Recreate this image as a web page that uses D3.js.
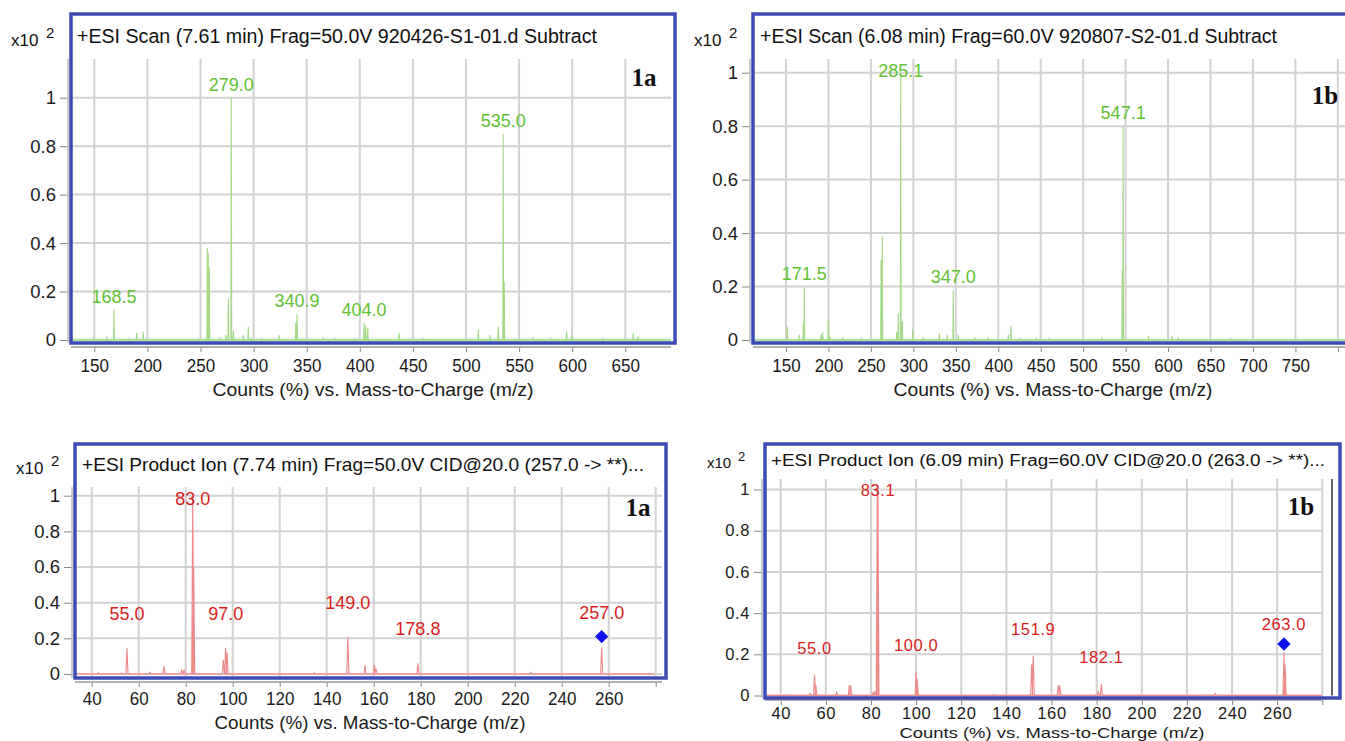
<!DOCTYPE html>
<html>
<head>
<meta charset="utf-8">
<script src="https://cdn.jsdelivr.net/npm/d3@7"></script>
<style>
  body { margin: 0; background: #fff; }
  svg { display: block; }
  text { font-family: "Liberation Sans", Arial, Helvetica, sans-serif; }
</style>
</head>
<body>
<svg id="chart" width="1345" height="741"></svg>
<script>
// ---- data ----
const yTicks = [0, 0.2, 0.4, 0.6, 0.8, 1];

const xTicksScanA = [150, 200, 250, 300, 350, 400, 450, 500, 550, 600, 650];
const xTicksScanB = [150, 200, 250, 300, 350, 400, 450, 500, 550, 600, 650, 700, 750, 800];
const xLabelsScanB = ["150", "200", "250", "300", "350", "400", "450", "500", "550", "600", "650", "700", "750", ""];
const xTicksIon = [40, 60, 80, 100, 120, 140, 160, 180, 200, 220, 240, 260, 280];
const xLabelsIon = ["40", "60", "80", "100", "120", "140", "160", "180", "200", "220", "240", "260", ""];

const titles = [
  "+ESI Scan (7.61 min) Frag=50.0V 920426-S1-01.d  Subtract",
  "+ESI Scan (6.08 min) Frag=60.0V 920807-S2-01.d  Subtract",
  "+ESI Product Ion (7.74 min) Frag=50.0V CID@20.0 (257.0 -> **)...",
  "+ESI Product Ion (6.09 min) Frag=60.0V CID@20.0 (263.0 -> **)..."
];
const tags = ["1a", "1b", "1a", "1b"];
const axisTitle = "Counts (%) vs. Mass-to-Charge (m/z)";

// [m/z, relative counts x10^2]
const scan1aPeaks = [
  [149, 0.01], [161.7, 0.015], [168.5, 0.124], [182, 0.005], [190, 0.03], [196, 0.035],
  [256.4, 0.38], [257.3, 0.36], [258.3, 0.3], [268, 0.01], [274, 0.02], [276.2, 0.17],
  [279.0, 1.0], [281, 0.04], [290.3, 0.02], [295, 0.055], [298, 0.01], [307.6, 0.005],
  [324.2, 0.02], [339.6, 0.07], [340.9, 0.107], [365.6, 0.01], [376.6, 0.005], [395.5, 0.005],
  [404.0, 0.07], [405.5, 0.06], [407.5, 0.05], [437, 0.03], [460, 0.005], [511.6, 0.045],
  [522.6, 0.02], [530.4, 0.055], [535.0, 0.85], [536, 0.24], [563, 0.01], [579.7, 0.01],
  [594.8, 0.035], [599.5, 0.02], [628.7, 0.005], [657.5, 0.03], [662, 0.015]
];
const scan1aLabels = [168.5, 279.0, 340.9, 404.0, 535.0];

const scan1bPeaks = [
  [151.6, 0.05], [165.7, 0.02], [170.4, 0.06], [171.5, 0.197], [191.2, 0.02], [193.2, 0.03],
  [200, 0.08], [201.8, 0.01], [216.8, 0.01], [239, 0.005], [262, 0.3], [263.4, 0.389],
  [280.4, 0.03], [282.3, 0.1], [285.1, 1.0], [287, 0.07], [299.2, 0.04], [311.7, 0.01],
  [330.6, 0.025], [340, 0.02], [347.0, 0.187], [352.9, 0.02], [372.6, 0.01], [388.3, 0.01],
  [411.9, 0.02], [415, 0.053], [425.6, 0.005], [445, 0.005], [459.8, 0.005], [522, 0.01],
  [546, 0.26], [547.1, 0.8], [577, 0.015], [604.6, 0.015], [612, 0.01], [674, 0.005]
];
const scan1bLabels = [171.5, 285.1, 347.0, 547.1];

const ion1aPeaks = [
  [42.8, 0.008], [52.8, 0.005], [55.0, 0.144], [64.8, 0.01], [70.8, 0.045], [78.3, 0.02],
  [79.3, 0.025], [83.0, 1.0], [83.4, 0.6], [96, 0.08], [97.0, 0.145], [97.6, 0.12],
  [134.6, 0.008], [149.0, 0.209], [156.3, 0.05], [160.3, 0.05], [161, 0.03], [178.8, 0.06],
  [226.9, 0.01], [257.0, 0.15]
];
const ion1aLabels = [55.0, 83.0, 97.0, 149.0, 178.8, 257.0];
const ion1aPrecursor = [257.0, 0.21];

const ion1bPeaks = [
  [42.6, 0.005], [53, 0.01], [55.0, 0.1], [55.6, 0.05], [64.8, 0.015], [70.4, 0.05],
  [71, 0.05], [81, 0.015], [81.8, 0.02], [82.8, 1.0], [83.1, 1.0], [100.0, 0.115],
  [100.5, 0.08], [134.6, 0.005], [151.2, 0.15], [151.9, 0.193], [163, 0.05], [163.7, 0.05],
  [180.7, 0.02], [182.1, 0.055], [226, 0.003], [232.6, 0.01], [263.0, 0.21], [263.5, 0.15]
];
const ion1bLabels = [55.0, 83.1, 100.0, 151.9, 182.1, 263.0];
const ion1bPrecursor = [263.0, 0.25];

// ---- layout / style per panel ----
const green = { line: "#a3d989", base: "#c6e7b6", label: "#5fc234" };
const red = { line: "#ec8a8a", base: "#f3bcbc", label: "#d91c1c" };

const panels = [
  { peaks: scan1aPeaks, labels: scan1aLabels, ticks: xTicksScanA, tickLabels: null, col: green,
    box: [71, 14, 675, 343], xDomain: [150, 650], xRange: [94.3, 625.3], yRange: [340, 97.7],
    gridTop: 59, plotRight: 671, lineEnd: 671, axisY: 347, yAxisX: 68, xPad: 7,
    titlePos: [77, 43, 520], expPos: [11, 46], tagPos: [644, 86], axisTitlePos: [373, 396, 321],
    fs: 18.5, axisFs: 18.5, sx: 0.92, labelFs: 18, titleFs: 19.5, expFs: 17, ls: 0, labelGap: 7, hw: 0.4, baseW: 3 },
  { peaks: scan1bPeaks, labels: scan1bLabels, ticks: xTicksScanB, tickLabels: xLabelsScanB, col: green,
    box: [753, 14, 1360, 343], xDomain: [150, 750], xRange: [786, 1295.4], yRange: [340, 72.7],
    gridTop: 59, plotRight: 1345, lineEnd: 1345, axisY: 347, yAxisX: 750, xPad: 7,
    titlePos: [760, 43, 517], expPos: [694, 46], tagPos: [1325, 104], axisTitlePos: [1053, 396, 319],
    fs: 18.5, axisFs: 18.5, sx: 0.92, labelFs: 18, titleFs: 19.5, expFs: 17, ls: 0, labelGap: 7, hw: 0.45, baseW: 2.5 },
  { peaks: ion1aPeaks, labels: ion1aLabels, precursor: ion1aPrecursor, ticks: xTicksIon, tickLabels: xLabelsIon, col: red,
    box: [75, 444, 666, 678], xDomain: [40, 260], xRange: [91.7, 608.7], yRange: [674, 495.7],
    gridTop: 487, plotRight: 662, lineEnd: 655, axisY: 682, yAxisX: 72, xPad: 5,
    titlePos: [82, 471, 562], expPos: [16, 474], tagPos: [638, 516], axisTitlePos: [370, 729, 311],
    fs: 18.5, axisFs: 18.5, sx: 0.92, labelFs: 18, titleFs: 18.5, expFs: 17, ls: 0, labelGap: 28, precGap: 18, hw: 0.45, baseW: 2 },
  { peaks: ion1bPeaks, labels: ion1bLabels, precursor: ion1bPrecursor, ticks: xTicksIon, tickLabels: xLabelsIon, col: red,
    box: [765, 444, 1340, 698], xDomain: [40, 260], xRange: [780.7, 1277.2], yRange: [695.5, 489.5],
    gridTop: 479, plotRight: 1322, lineEnd: 1322, axisY: 700, yAxisX: 762, xPad: 2,
    titlePos: [771, 466, 554], expPos: [707, 468], tagPos: [1301, 515], axisTitlePos: [1052, 737.5, 305],
    fs: 16.5, axisFs: 15, sx: 1, labelFs: 16.5, titleFs: 16, expFs: 15, ls: 0.6, labelGap: 21, precGap: 14, hw: 0.45, baseW: 2,
    rightRule: 1332 }
];

const svg = d3.select("#chart");
const boxColor = "#3c4ab6";
const gridColor = "#d2d2d2";

panels.forEach((p, i) => {
  const g = svg.append("g");
  const [bx0, by0, bx1, by1] = p.box;

  const x = d3.scaleLinear().domain(p.xDomain).range(p.xRange);
  const y = d3.scaleLinear().domain([0, 1]).range(p.yRange);

  // grid
  g.append("g").selectAll("line").data(p.ticks).join("line")
    .attr("x1", d => x(d)).attr("x2", d => x(d))
    .attr("y1", p.gridTop).attr("y2", by1)
    .attr("stroke", gridColor).attr("stroke-width", 2);
  g.append("g").selectAll("line").data(yTicks).join("line")
    .attr("x1", bx0).attr("x2", p.plotRight)
    .attr("y1", d => y(d)).attr("y2", d => y(d))
    .attr("stroke", gridColor).attr("stroke-width", 2);

  if (p.rightRule) {
    g.append("line").attr("x1", p.rightRule).attr("x2", p.rightRule)
      .attr("y1", p.gridTop).attr("y2", y(0))
      .attr("stroke", "#666").attr("stroke-width", 2);
  }

  // y axis
  const yAxis = d3.axisLeft(y).tickValues(yTicks)
    .tickFormat(d => (d === 0 || d === 1) ? String(d) : d3.format(".1f")(d))
    .tickSize(8).tickPadding(4);
  const ya = g.append("g").attr("transform", `translate(${p.yAxisX},0)`).call(yAxis);
  ya.select(".domain").remove();
  ya.selectAll("line").attr("stroke", "#888");
  ya.selectAll("text").attr("font-size", p.fs).attr("fill", "#1a1a1a")
    .attr("letter-spacing", p.ls);
  g.append("line").attr("x1", p.yAxisX).attr("x2", p.yAxisX)
    .attr("y1", p.gridTop).attr("y2", by1).attr("stroke", "#bbb").attr("stroke-width", 1.5);

  // x axis below the frame
  const xAxis = d3.axisBottom(x).tickValues(p.ticks)
    .tickFormat((d, k) => p.tickLabels ? p.tickLabels[k] : String(d))
    .tickSize(5).tickPadding(p.xPad);
  const xa = g.append("g").attr("transform", `translate(0,${p.axisY})`).call(xAxis);
  xa.select(".domain").remove();
  xa.selectAll("line").attr("stroke", "#888");
  xa.selectAll("text").attr("font-size", p.fs).attr("fill", "#1a1a1a")
    .attr("transform", `scale(${p.sx},1)`)
    .attr("letter-spacing", p.ls);
  g.append("line").attr("x1", bx0).attr("x2", Math.min(p.plotRight, 1345))
    .attr("y1", p.axisY).attr("y2", p.axisY).attr("stroke", "#999").attr("stroke-width", 1.5);

  // spectrum trace
  const x0 = x.invert(bx0 + 2), x1 = x.invert(p.lineEnd);
  g.append("line").attr("x1", x(x0)).attr("x2", x(x1))
    .attr("y1", y(0)).attr("y2", y(0))
    .attr("stroke", p.col.base).attr("stroke-width", p.baseW);
  const pts = [[x0, 0]];
  p.peaks.slice().sort((a, b) => a[0] - b[0]).forEach(([mz, h]) => {
    pts.push([mz - p.hw, 0], [mz, h], [mz + p.hw, 0]);
  });
  pts.push([x1, 0]);
  g.append("path")
    .attr("d", d3.line().x(d => x(d[0])).y(d => y(d[1]))(pts))
    .attr("fill", "none").attr("stroke", p.col.line).attr("stroke-width", 1.1);

  // frame
  g.append("rect").attr("x", bx0).attr("y", by0)
    .attr("width", bx1 - bx0).attr("height", by1 - by0)
    .attr("fill", "none").attr("stroke", boxColor).attr("stroke-width", 3.5);

  // peak labels
  const fmt = d3.format(".1f");
  p.labels.forEach(mz => {
    const pk = p.peaks.find(d => d[0] === mz);
    let ly = Math.max(y(pk[1]) - p.labelGap, p.gridTop + p.labelFs);
    if (p.precursor && p.precursor[0] === mz) ly = y(p.precursor[1]) - p.precGap;
    g.append("text").attr("x", x(mz)).attr("y", ly)
      .attr("text-anchor", "middle").attr("font-size", p.labelFs)
      .attr("letter-spacing", p.ls).attr("fill", p.col.label).text(fmt(mz));
  });

  // precursor marker
  if (p.precursor) {
    g.append("path")
      .attr("d", d3.symbol(d3.symbolSquare, 88)())
      .attr("transform", `translate(${x(p.precursor[0])},${y(p.precursor[1])}) rotate(45)`)
      .attr("fill", "#1010f0");
  }

  // titles
  g.append("text").attr("x", p.titlePos[0]).attr("y", p.titlePos[1])
    .attr("font-size", p.titleFs).attr("fill", "#111")
    .attr("textLength", p.titlePos[2]).attr("lengthAdjust", "spacingAndGlyphs")
    .text(titles[i]);
  const ex = g.append("text").attr("x", p.expPos[0]).attr("y", p.expPos[1])
    .attr("font-size", p.expFs).attr("fill", "#111");
  ex.append("tspan").text("x10");
  ex.append("tspan").attr("dx", p.expFs * 0.45).attr("dy", -p.expFs * 0.5)
    .attr("font-size", p.expFs - 2).text("2");
  g.append("text").attr("x", p.tagPos[0]).attr("y", p.tagPos[1])
    .attr("text-anchor", "middle").attr("font-size", 25).attr("font-weight", "bold")
    .style("font-family", "'Liberation Serif', 'Times New Roman', serif").attr("fill", "#111")
    .text(tags[i]);
  g.append("text").attr("x", p.axisTitlePos[0]).attr("y", p.axisTitlePos[1])
    .attr("text-anchor", "middle").attr("font-size", p.axisFs)
    .attr("textLength", p.axisTitlePos[2]).attr("lengthAdjust", "spacingAndGlyphs")
    .attr("fill", "#1a1a1a").text(axisTitle);
});
</script>
</body>
</html>
